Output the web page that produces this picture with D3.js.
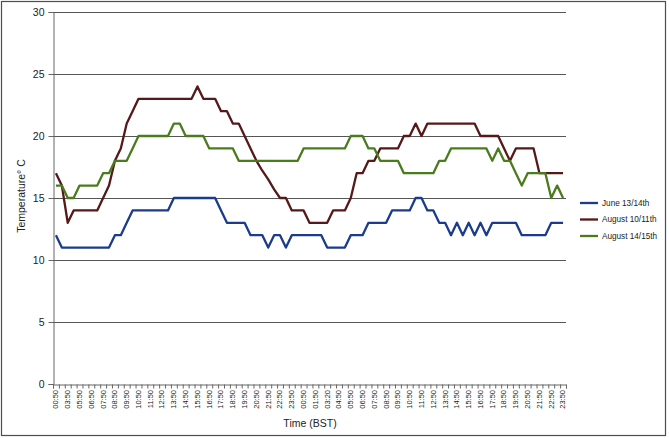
<!DOCTYPE html>
<html>
<head>
<meta charset="utf-8">
<title>Temperature</title>
<script src="https://cdn.jsdelivr.net/npm/d3@7"></script>
<style>
    body { margin: 0; background: #fff; }
    svg { font-family: 'Liberation Sans', Arial, sans-serif; }
</style>
</head>
<body>
<svg id="chart" width="669" height="438"></svg>
<script>
// x labels, one for every second reading
var tickLabels = ["00:50","03:50","05:50","06:50","07:50","08:50","09:50","10:50","11:50","12:50",
    "13:50","14:50","15:50","16:50","17:50","18:50","19:50","20:50","21:50","22:50","23:50",
    "00:50","01:50","03:20","04:50","05:50","06:50","07:50","08:50","09:50","10:50","11:50",
    "12:50","13:50","14:50","15:50","16:50","17:50","18:50","19:50","20:50","21:50","22:50","23:50"];

var june = [12,11,11,11,11,11,11,11,11,11,12,12,13,14,14,14,14,14,14,14,
    15,15,15,15,15,15,15,15,14,13,13,13,13,12,12,12,11,12,12,11,
    12,12,12,12,12,12,11,11,11,11,12,12,12,13,13,13,13,14,14,14,
    14,15,15,14,14,13,13,12,13,12,13,12,13,12,13,13,13,13,13,12,
    12,12,12,12,13,13,13];

var aug10 = [17,16,13,14,14,14,14,14,15,16,18,19,21,22,23,23,23,23,23,23,
    23,23,23,23,24,23,23,23,22,22,21,21,20,19,18,17.2,16.5,15.7,15,15,
    14,14,14,13,13,13,13,14,14,14,15,17,17,18,18,19,19,19,19,20,
    20,21,20,21,21,21,21,21,21,21,21,21,20,20,20,20,19,18,19,19,
    19,19,17,17,17,17,17];

var aug14 = [16,16,15,15,16,16,16,16,17,17,18,18,18,19,20,20,20,20,20,20,
    21,21,20,20,20,20,19,19,19,19,19,18,18,18,18,18,18,18,18,18,
    18,18,19,19,19,19,19,19,19,19,20,20,20,19,19,18,18,18,18,17,
    17,17,17,17,17,18,18,19,19,19,19,19,19,19,18,19,18,18,17,16,
    17,17,17,17,15,16,15];

var seriesNames = ["June 13/14th", "August 10/11th", "August 14/15th"];
var seriesColors = ["#1b3c8c", "#561818", "#4a7c1e"];
var yTicks = [0, 5, 10, 15, 20, 25, 30];

var series = [june, aug10, aug14];
var n = june.length;

var svg = d3.select("#chart");

// outer frame
svg.append("rect")
    .attr("x", 1.5).attr("y", 1.5)
    .attr("width", 664).attr("height", 434)
    .attr("fill", "none")
    .attr("stroke", "#4d4d4d")
    .attr("stroke-width", 1.2);

var plotL = 53, plotR = 566, plotT = 12, plotB = 384;

// category bands
var x = d3.scaleBand()
    .domain(d3.range(n))
    .range([plotL, plotR])
    .padding(0);
var xEdge = d3.scaleLinear().domain([0, n]).range([plotL, plotR]);

var y = d3.scaleLinear()
    .domain([0, 30])
    .range([plotB, plotT]);

// gridlines
svg.append("g")
    .selectAll("line")
    .data(yTicks.filter(d => d > 0))
    .join("line")
    .attr("x1", plotL).attr("x2", plotR)
    .attr("y1", d => y(d) + 0.5).attr("y2", d => y(d) + 0.5)
    .attr("stroke", "#555")
    .attr("stroke-width", 1);

// y axis
var yAxis = svg.append("g")
    .attr("transform", `translate(${plotL + 0.5},0)`)
    .call(d3.axisLeft(y).tickValues(yTicks).tickSize(5).tickPadding(4));
yAxis.select(".domain").attr("stroke", "#666");
yAxis.selectAll(".tick line").attr("stroke", "#666");
yAxis.selectAll("text")
    .attr("fill", "#222")
    .style("font-size", "10.5px");

// x axis tick marks on category edges
var xAxis = svg.append("g")
    .attr("transform", `translate(0,${plotB + 0.5})`)
    .call(d3.axisBottom(xEdge).tickValues(d3.range(n + 1)).tickSize(4).tickFormat(""));
xAxis.select(".domain").attr("stroke", "#666");
xAxis.selectAll(".tick line").attr("stroke", "#666");

// x labels on every second category
var labelIdx = d3.range(0, n, 2);
var xLab = svg.append("g")
    .attr("transform", `translate(0,${plotB})`)
    .call(d3.axisBottom(x)
        .tickValues(labelIdx)
        .tickSize(0)
        .tickFormat((d, i) => tickLabels[i]));
xLab.select(".domain").remove();
xLab.selectAll("text")
    .attr("transform", "rotate(-90)")
    .attr("x", -6)
    .attr("y", 0)
    .attr("dy", "0.32em")
    .attr("fill", "#222")
    .style("text-anchor", "end")
    .style("font-size", "7.5px");

// lines
var line = d3.line()
    .x((d, i) => x(i) + x.bandwidth() / 2)
    .y(d => y(d));

series.forEach(function (s, k) {
    svg.append("path")
        .datum(s)
        .attr("fill", "none")
        .attr("stroke", seriesColors[k])
        .attr("stroke-width", 2.3)
        .attr("stroke-linejoin", "round")
        .attr("d", line);
});

// axis titles
svg.append("text")
    .attr("x", 310).attr("y", 427)
    .attr("text-anchor", "middle")
    .attr("fill", "#222")
    .style("font-size", "10.5px")
    .text("Time (BST)");

svg.append("text")
    .attr("transform", "translate(25,196) rotate(-90)")
    .attr("text-anchor", "middle")
    .attr("fill", "#222")
    .style("font-size", "10.5px")
    .text("Temperature° C");

// legend
var legend = svg.append("g")
    .attr("transform", "translate(580,203)");
seriesNames.forEach(function (name, k) {
    var g = legend.append("g").attr("transform", `translate(0,${k * 16.5})`);
    g.append("line")
        .attr("x1", 0).attr("x2", 18)
        .attr("stroke", seriesColors[k])
        .attr("stroke-width", 2.3);
    g.append("text")
        .attr("x", 22).attr("dy", "0.35em")
        .attr("fill", "#222")
        .style("font-size", "8.2px")
        .text(name);
});
</script>
</body>
</html>
